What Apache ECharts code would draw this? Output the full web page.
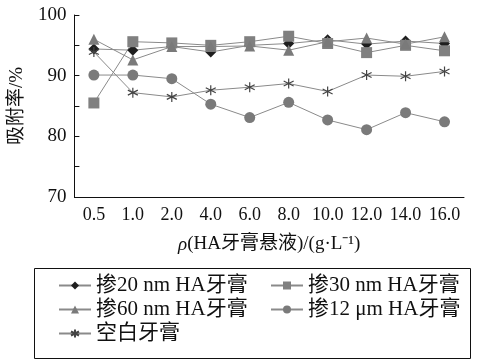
<!DOCTYPE html>
<html><head><meta charset="utf-8">
<script src="https://cdn.jsdelivr.net/npm/echarts@6/dist/echarts.min.js"></script>
<style>html,body{margin:0;padding:0;background:#fff}#c{width:480px;height:360px}</style>
</head><body><div id="c"></div>
<script>
const categories = ['0.5','1.0','2.0','4.0','6.0','8.0','10.0','12.0','14.0','16.0'];
const yTicks = [70, 80, 90, 100];
const s20nm = [94.4, 94.2, 94.8, 93.9, 95.0, 95.3, 95.9, 95.2, 95.7, 95.3];
const s30nm = [85.5, 95.6, 95.4, 95.0, 95.6, 96.5, 95.3, 93.8, 95.0, 94.1];
const s60nm = [96.0, 92.6, 94.8, 94.8, 94.9, 94.2, 95.6, 96.2, 95.2, 96.4];
const s12um = [90.1, 90.1, 89.5, 85.3, 83.1, 85.6, 82.7, 81.1, 83.9, 82.4];
const sBlank = [93.9, 87.2, 86.5, 87.6, 88.1, 88.7, 87.4, 90.1, 89.9, 90.7];
const names = ['掺20 nm HA牙膏','掺30 nm HA牙膏','掺60 nm HA牙膏','掺12 μm HA牙膏','空白牙膏'];

const FONT = '"Liberation Serif","Noto Sans CJK SC",serif';
const chart = echarts.init(document.getElementById('c'));
function ser(name, data, symbol, size, color, extra) {
  return {
    name, type: 'line', data, symbol, symbolSize: size,
    itemStyle: Object.assign({color: color}, extra || {}),
    lineStyle: {color: '#8a8a8a', width: 1},
    emphasis: {disabled: true}, animation: false
  };
}
const legendBase = {
  orient: 'vertical', itemWidth: 32, itemHeight: 10, itemGap: 3,
  textStyle: {fontFamily: FONT, fontSize: 21, color: '#111'},
  selectedMode: false
};
chart.setOption({
  animation: false,
  grid: {left: 74, right: 16, top: 15, bottom: 163},
  xAxis: {
    type: 'category', data: categories, boundaryGap: true,
    name: '{i|ρ}(HA牙膏悬液)/(g·L⁻¹)', nameLocation: 'middle', nameGap: 38,
    nameTextStyle: {fontFamily: FONT, fontSize: 19, color: '#111',
      rich: {i: {fontFamily: FONT, fontStyle: 'italic', fontSize: 19, color: '#111'}}},
    axisLine: {lineStyle: {color: '#111', width: 1}},
    axisTick: {inside: true, length: 5, lineStyle: {color: '#111'}},
    axisLabel: {fontFamily: FONT, fontSize: 18, color: '#111', margin: 9, interval: 0},
    splitLine: {show: false}
  },
  yAxis: {
    type: 'value', min: 70, max: 100, interval: 5,
    name: '吸附率/%', nameLocation: 'middle', nameGap: 42,
    nameTextStyle: {fontFamily: FONT, fontSize: 19, color: '#111'},
    axisLine: {show: true, lineStyle: {color: '#111', width: 1}},
    axisTick: {show: true, inside: true, length: 5, lineStyle: {color: '#111'}},
    axisLabel: {fontFamily: FONT, fontSize: 19, color: '#111', margin: 8,
      formatter: v => yTicks.includes(v) ? String(v) : ''},
    splitLine: {show: false}
  },
  legend: [
    Object.assign({}, legendBase, {left: 53, top: 270, data: [names[0], names[2], names[4]]}),
    Object.assign({}, legendBase, {left: 265, top: 270, data: [names[1], names[3]]})
  ],
  graphic: [{type: 'rect', shape: {x: 34.5, y: 268.5, width: 436, height: 90},
    style: {fill: 'none', stroke: '#111', lineWidth: 1}, silent: true}],
  series: [
    ser(names[0], s20nm, 'diamond', 11, '#1e1e1e'),
    ser(names[1], s30nm, 'rect', 11, '#808080'),
    ser(names[2], s60nm, 'triangle', 11, '#7a7a7a'),
    ser(names[3], s12um, 'circle', 11, '#7a7a7a'),
    ser(names[4], sBlank, 'path://M0,-10L0,10M-8.7,-5L8.7,5M-8.7,5L8.7,-5', 10, '#444',
      {borderColor: '#444', borderWidth: 1.2})
  ]
});
</script></body></html>
